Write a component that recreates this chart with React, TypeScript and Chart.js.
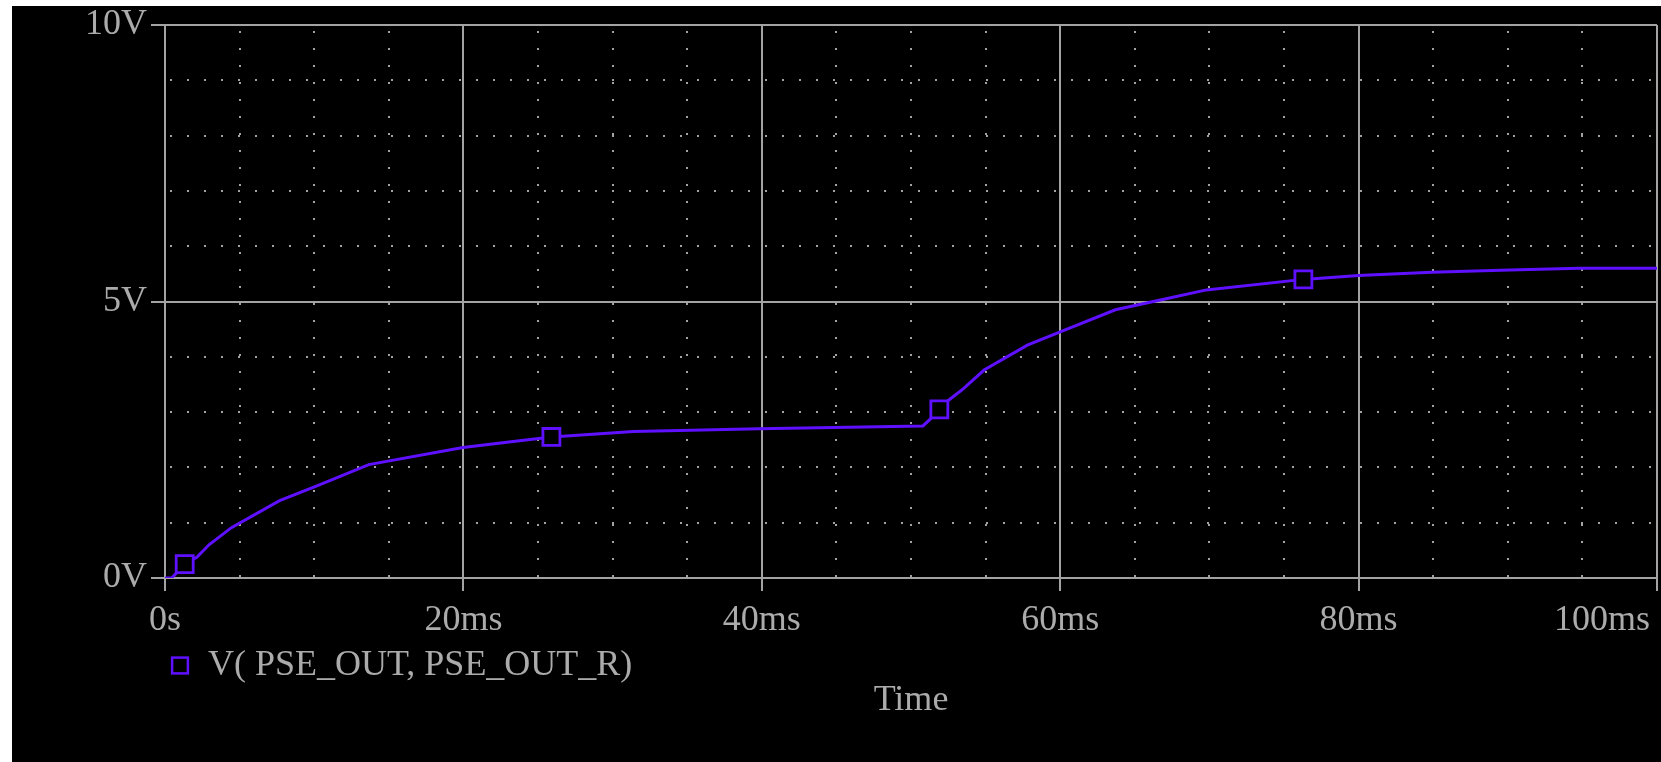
import React, { useEffect, useRef } from 'react';
import { Chart, registerables } from 'chart.js';

Chart.register(...registerables);

// ---- data ----
const TIME_MS = [0, 0.45, 1.32, 2.15, 2.95, 4.45, 7.68, 10.14, 13.66, 19.97, 23.76, 25.9, 31.4, 39.8, 50.8, 51.4, 51.9, 52.5, 53.5, 54.9, 57.8, 60.0, 63.7, 67.1, 69.8, 76.3, 80.0, 84.9, 90.1, 94.8, 100];
const VOLTS = [0, 0, 0.25, 0.38, 0.6, 0.91, 1.4, 1.66, 2.05, 2.36, 2.48, 2.55, 2.65, 2.7, 2.75, 2.9, 3.05, 3.21, 3.42, 3.76, 4.21, 4.45, 4.85, 5.05, 5.21, 5.4, 5.47, 5.53, 5.57, 5.6, 5.6];
const MARKER_MS = [1.32, 25.9, 51.9, 76.3];
const MARKER_V = [0.25, 2.55, 3.05, 5.4];

const X_LABEL_VALUES = [0, 20, 40, 60, 80, 100];
const X_TICK_LABELS = ['0s', '20ms', '40ms', '60ms', '80ms', '100ms'];
const Y_LABEL_VALUES = [0, 5, 10];
const Y_TICK_LABELS = ['0V', '5V', '10V'];
const SERIES_LABEL = 'V( PSE_OUT, PSE_OUT_R)';
const X_TITLE = 'Time';

// ---- styles ----
const LINE_COLOR = '#5f10ff';
const GRID_COLOR = '#a3a3a3';
const TEXT_COLOR = '#ababab';
const FONT_FAMILY = '"Liberation Serif", "Times New Roman", serif';
const FONT_SIZE = 36;

const overlayPlugin = {
  id: 'overlay',
  afterDraw(chart: any) {
    const { ctx, chartArea } = chart;
    const xs = chart.scales.x;
    ctx.save();
    ctx.font = `${FONT_SIZE}px ${FONT_FAMILY}`;
    ctx.fillStyle = TEXT_COLOR;
    ctx.textBaseline = 'middle';
    ctx.textAlign = 'center';
    const labelY = chartArea.bottom + 43;
    const maxRight = chart.width - 11;
    X_LABEL_VALUES.forEach((v, i) => {
      const text = X_TICK_LABELS[i];
      const w = ctx.measureText(text).width;
      let px = xs.getPixelForValue(v);
      if (px + w / 2 > maxRight) px = maxRight - w / 2;
      ctx.fillText(text, px, labelY);
    });
    ctx.fillText(X_TITLE, (chartArea.left + chartArea.right) / 2, chartArea.bottom + 123);
    const ly = chartArea.bottom + 87.5;
    const lx = chartArea.left + 15;
    ctx.strokeStyle = LINE_COLOR;
    ctx.lineWidth = 2.5;
    ctx.strokeRect(lx - 7.9, ly - 7.9, 15.8, 15.8);
    ctx.textAlign = 'left';
    ctx.fillText(SERIES_LABEL, chartArea.left + 43, ly);
    ctx.restore();
  },
};

export default function App() {
  const canvasRef = useRef<HTMLCanvasElement | null>(null);

  useEffect(() => {
    if (!canvasRef.current) return;
    const curve = TIME_MS.map((t, i) => ({ x: t, y: VOLTS[i] }));
    const markers = MARKER_MS.map((t, i) => ({ x: t, y: MARKER_V[i] }));
    const chart = new Chart(canvasRef.current, {
      type: 'line',
      data: {
        datasets: [
          {
            label: SERIES_LABEL + ' markers',
            data: markers,
            showLine: false,
            pointStyle: 'rect',
            pointRadius: 12,
            pointBorderWidth: 2.8,
            pointBorderColor: LINE_COLOR,
            pointBackgroundColor: '#000',
            borderColor: LINE_COLOR,
            backgroundColor: '#000',
          },
          {
            label: SERIES_LABEL,
            data: curve,
            borderColor: LINE_COLOR,
            borderWidth: 3,
            pointRadius: 0,
            tension: 0,
            fill: false,
          },
        ],
      },
      options: {
        responsive: false,
        animation: false,
        devicePixelRatio: 1,
        layout: { autoPadding: false, padding: { left: 0, right: 4, top: 19, bottom: 0 } },
        plugins: {
          legend: { display: false },
          tooltip: { enabled: false },
        },
        scales: {
          x: {
            type: 'linear',
            min: 0,
            max: 100,
            ticks: { stepSize: 5, display: false, autoSkip: false },
            grid: {
              color: GRID_COLOR,
              lineWidth: 2,
              drawTicks: true,
              tickLength: 13,
              tickColor: (c: any) => (c.tick && c.tick.value % 20 === 0 ? GRID_COLOR : 'rgba(0,0,0,0)'),
            },
            border: {
              display: true,
              color: GRID_COLOR,
              width: 2,
              dash: (c: any) => (c.tick && c.tick.value % 20 !== 0 ? [2, 15] : []),
              dashOffset: -6,
            },
            afterFit: (scale: any) => {
              scale.height = 184;
              scale.paddingLeft = 0;
              scale.paddingRight = 0;
            },
          },
          y: {
            type: 'linear',
            min: 0,
            max: 10,
            ticks: {
              stepSize: 1,
              autoSkip: false,
              padding: 4,
              color: TEXT_COLOR,
              font: { family: FONT_FAMILY, size: FONT_SIZE, lineHeight: 1 },
              callback: (value: any) => {
                const idx = Y_LABEL_VALUES.indexOf(Number(value));
                return idx >= 0 ? Y_TICK_LABELS[idx] : '';
              },
            },
            grid: {
              color: GRID_COLOR,
              lineWidth: 2,
              drawTicks: true,
              tickLength: 14,
              tickColor: (c: any) => (c.tick && c.tick.value % 5 === 0 ? GRID_COLOR : 'rgba(0,0,0,0)'),
            },
            border: {
              display: true,
              color: GRID_COLOR,
              width: 2,
              dash: (c: any) => (c.tick && c.tick.value % 5 !== 0 ? [2, 15] : []),
              dashOffset: -4,
            },
            afterFit: (scale: any) => {
              scale.width = 153;
              scale.paddingTop = 0;
              scale.paddingBottom = 0;
            },
          },
        },
      },
      plugins: [overlayPlugin],
    });
    return () => chart.destroy();
  }, []);

  return (
    <div style={{ position: 'fixed', left: 12, top: 6, width: 1649, height: 756, background: '#000' }}>
      <canvas ref={canvasRef} width={1649} height={756} style={{ display: 'block' }} />
    </div>
  );
}
